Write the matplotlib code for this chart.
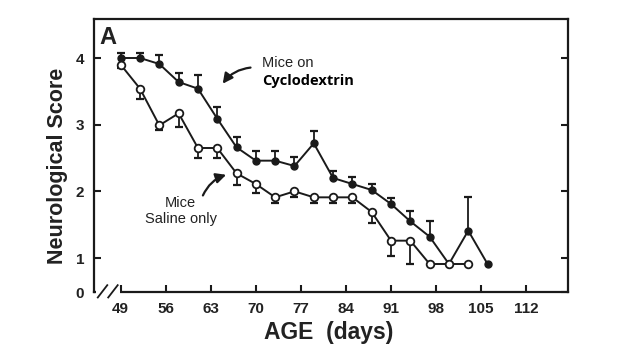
import numpy as np
import matplotlib
matplotlib.use('Agg')
import matplotlib.pyplot as plt

# Data (age in days, neurological score, upper/lower error)
cyclo_days = [49, 52, 55, 58, 61, 64, 67, 70, 73, 76, 79, 82, 85, 88, 91, 94, 97, 100, 103, 106]
cyclo_score = [4.0, 4.0, 3.91, 3.64, 3.54, 3.09, 2.66, 2.46, 2.46, 2.38, 2.72, 2.2, 2.11, 2.02,
               1.81, 1.55, 1.32, 0.91, 1.41, 0.91]
cyclo_err = [0.07, 0.07, 0.13, 0.13, 0.21, 0.18, 0.16, 0.14, 0.14, 0.14, 0.18, 0.11, 0.11, 0.09,
             0.09, 0.16, 0.24, 0.0, 0.51, 0.0]

saline_days = [49, 52, 55, 58, 61, 64, 67, 70, 73, 76, 79, 82, 85, 88, 91, 94, 97, 100, 103]
saline_score = [3.9, 3.54, 2.99, 3.17, 2.65, 2.65, 2.27, 2.11, 1.91, 2.0, 1.91, 1.91, 1.91, 1.69,
                1.26, 1.26, 0.91, 0.91, 0.91]
saline_err = [0.05, 0.16, 0.07, 0.2, 0.15, 0.15, 0.17, 0.14, 0.09, 0.08, 0.09, 0.09, 0.09, 0.16,
              0.23, 0.35, 0.0, 0.0, 0.0]

x_ticks = [49, 56, 63, 70, 77, 84, 91, 98, 105, 112]
y_ticks = [0.49, 1, 2, 3, 4]
y_labels = ['0', '1', '2', '3', '4']

plt.rcParams['font.family'] = ['Liberation Sans', 'DejaVu Sans']

fig = plt.figure(figsize=(6.31, 3.63), dpi=100)
ax = fig.add_axes([94 / 631, 1 - 292 / 363, (568 - 94) / 631, (292 - 19) / 363])

lc = '#1a1a1a'
tc = '#222222'
cd = np.array(cyclo_days)
cs = np.array(cyclo_score)
ce = np.array(cyclo_err)
sd = np.array(saline_days)
ss = np.array(saline_score)
se = np.array(saline_err)

# error bars: cyclodextrin upward, saline downward
m = ce > 0
ax.vlines(cd[m], cs[m], cs[m] + ce[m], color=lc, lw=1.3, zorder=2)
ax.plot(cd[m], cs[m] + ce[m], ls='none', marker='_', ms=6, mew=1.6, color=lc, zorder=2)
m = se > 0
ax.vlines(sd[m], ss[m] - se[m], ss[m], color=lc, lw=1.3, zorder=2)
ax.plot(sd[m], ss[m] - se[m], ls='none', marker='_', ms=6, mew=1.6, color=lc, zorder=2)

ax.plot(cd, cs, color=lc, lw=1.4, marker='o', ms=5, mfc=lc, mec=lc, zorder=3)
ax.plot(sd, ss, color=lc, lw=1.4, marker='o', ms=5.5, mfc='white', mec=lc, mew=1.3, zorder=3)

ax.set_xlim(44.85, 118.5)
ax.set_ylim(0.49, 4.585)
ax.set_xticks(x_ticks)
ax.set_xticklabels([str(t) for t in x_ticks], fontweight='bold', fontsize=11, color=tc)
ax.set_yticks(y_ticks)
ax.set_yticklabels(y_labels, fontweight='bold', fontsize=11, color=tc)
ax.tick_params(axis='both', direction='in', length=5, width=1.5, color=lc, right=True)
ax.tick_params(axis='x', pad=7)
ax.tick_params(axis='y', pad=7)
for s in ax.spines.values():
    s.set_linewidth(1.6)
    s.set_color(lc)

fig.text(329 / 631, 1 - 332 / 363, 'AGE  (days)', fontsize=16.5, fontweight='bold', color=tc,
         ha='center', va='center')
fig.text(57 / 631, 1 - 166 / 363, 'Neurological Score', fontsize=15.5, fontweight='bold',
         color=tc, ha='center', va='center', rotation=90)

# axis break marks
ax.plot([0.005, 0.055], [0.0, 0.0], color='white', lw=3, transform=ax.transAxes,
        clip_on=False, zorder=5, solid_capstyle='butt')
for x0 in [0.008, 0.03]:
    ax.plot([x0, x0 + 0.02], [-0.02, 0.025], color=lc, lw=1.3, transform=ax.transAxes,
            clip_on=False, zorder=6)

ax.text(0.011, 0.975, 'A', transform=ax.transAxes, fontsize=17, fontweight='bold',
        va='top', ha='left', color=tc)

ax.text(71.0, 3.93, 'Mice on', fontsize=10.5, ha='left', va='center', color=tc)
ax.text(70.9, 3.66, 'Cyclodextrin', fontsize=10.5, fontweight='bold', ha='left', va='center',
        family=['Open Sans', 'DejaVu Sans'], color='black')
ax.annotate('', xy=(64.6, 3.58), xytext=(69.6, 3.86),
            arrowprops=dict(arrowstyle='-|>', color=lc, lw=1.6, mutation_scale=15,
                            connectionstyle='arc3,rad=0.25'))

ax.text(58.3, 1.82, 'Mice', fontsize=10.5, ha='center', va='center', color=tc)
ax.text(58.3, 1.58, 'Saline only', fontsize=10.5, ha='center', va='center', color=tc)
ax.annotate('', xy=(65.8, 2.26), xytext=(61.6, 1.9),
            arrowprops=dict(arrowstyle='-|>', color=lc, lw=1.6, mutation_scale=15,
                            connectionstyle='arc3,rad=-0.25'))

fig.savefig('out.png', dpi=100)
